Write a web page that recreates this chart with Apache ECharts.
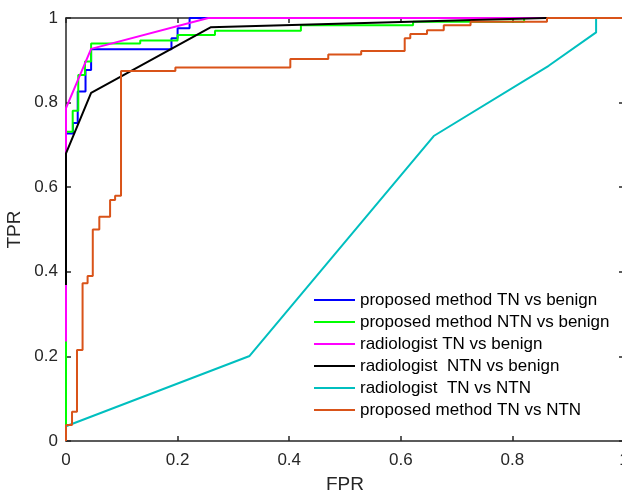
<!DOCTYPE html>
<html>
<head>
<meta charset="utf-8">
<script src="https://cdn.jsdelivr.net/npm/echarts@6/dist/echarts.min.js"></script>
<style>
html,body{margin:0;padding:0;background:#fff;overflow:hidden;}
#c{width:622px;height:493px;}
</style>
</head>
<body>
<div id="c"></div>
<script>
const seriesNames = [
  'proposed method TN vs benign',
  'proposed method NTN vs benign',
  'radiologist TN vs benign',
  'radiologist  NTN vs benign',
  'radiologist  TN vs NTN',
  'proposed method TN vs NTN'
];
const seriesColors = ['#0000FF','#00FF00','#FF00FF','#000000','#00BFBF','#D95319'];
const xTicks = [0, 0.2, 0.4, 0.6, 0.8, 1];
const yTicks = [0, 0.2, 0.4, 0.6, 0.8, 1];

const propTNvsBenign = [[0,0],[0,0.727],[0.0125,0.727],[0.0125,0.752],[0.021,0.752],[0.021,0.826],[0.035,0.826],[0.035,0.877],[0.045,0.877],[0.045,0.926],[0.189,0.926],[0.189,0.952],[0.2,0.952],[0.2,0.976],[0.2215,0.976],[0.2215,1],[1,1]];
const propNTNvsBenign = [[0,0],[0,0.731],[0.012,0.731],[0.012,0.781],[0.022,0.781],[0.022,0.865],[0.034,0.865],[0.034,0.897],[0.045,0.897],[0.045,0.94],[0.133,0.94],[0.133,0.947],[0.2,0.947],[0.2,0.96],[0.267,0.96],[0.267,0.97],[0.421,0.97],[0.421,0.983],[0.622,0.983],[0.622,0.991],[0.821,0.991],[0.821,1],[1,1]];
const radTNvsBenign = [[0,0.235],[0,0.787],[0.045,0.927],[0.255,1],[1,1]];
const radNTNvsBenign = [[0,0.369],[0,0.68],[0.045,0.823],[0.259,0.978],[0.86,1],[1,1]];
const radTNvsNTN = [[0,0.035],[0.329,0.201],[0.659,0.721],[0.865,0.887],[0.95,0.966],[0.95,1],[1,1]];
const propTNvsNTN = [[0,0],[0,0.038],[0.0108,0.038],[0.0108,0.069],[0.0197,0.069],[0.0197,0.215],[0.0297,0.215],[0.0297,0.373],[0.0387,0.373],[0.0387,0.39],[0.048,0.39],[0.048,0.5],[0.0597,0.5],[0.0597,0.53],[0.079,0.53],[0.079,0.57],[0.088,0.57],[0.088,0.58],[0.0986,0.58],[0.0986,0.875],[0.196,0.875],[0.196,0.883],[0.402,0.883],[0.402,0.903],[0.47,0.903],[0.47,0.914],[0.529,0.914],[0.529,0.922],[0.607,0.922],[0.607,0.952],[0.617,0.952],[0.617,0.962],[0.647,0.962],[0.647,0.971],[0.677,0.971],[0.677,0.983],[0.725,0.983],[0.725,0.991],[0.862,0.991],[0.862,1],[1,1]];

const allData = [propTNvsBenign, propNTNvsBenign, radTNvsBenign, radNTNvsBenign, radTNvsNTN, propTNvsNTN];

const axisColor = '#262626';
const font = 'Liberation Sans, Arial, sans-serif';

function baseAxis(extra){
  return Object.assign({
    type:'value', min:0, max:1, interval:0.2,
    splitLine:{show:false},
    axisLine:{show:true, onZero:false, lineStyle:{color:axisColor, width:1.5}},
    axisTick:{show:true, inside:true, length:5, lineStyle:{color:axisColor, width:1.5}},
  }, extra);
}

const chart = echarts.init(document.getElementById('c'), null, {renderer:'canvas'});
chart.setOption({
  animation:false,
  backgroundColor:'#fff',
  grid:{left:66, top:18, width:558, height:423, containLabel:false, outerBoundsMode:'none'},
  legend:{
    orient:'vertical', left:314, top:290, padding:0, itemWidth:41, itemHeight:2, itemGap:2,
    icon:'rect',
    data:seriesNames,
    textStyle:{fontFamily:font, fontSize:17, color:'#000', lineHeight:20}
  },
  xAxis:[
    baseAxis({position:'bottom', name:'FPR', nameLocation:'middle', nameGap:34, nameMoveOverlap:false,
      nameTextStyle:{fontFamily:font, fontSize:19, color:axisColor},
      axisLabel:{margin:11, fontFamily:font, fontSize:17, color:axisColor,
        formatter:function(v){ return xTicks.indexOf(v)>=0 ? String(v) : ''; }}}),
    baseAxis({position:'top', axisLabel:{show:false}})
  ],
  yAxis:[
    baseAxis({position:'left', name:'TPR', nameLocation:'middle', nameGap:42, nameMoveOverlap:false,
      nameTextStyle:{fontFamily:font, fontSize:19, color:axisColor},
      axisLabel:{margin:8, fontFamily:font, fontSize:17, color:axisColor,
        formatter:function(v){ return yTicks.indexOf(v)>=0 ? String(v) : ''; }}}),
    baseAxis({position:'right', axisLabel:{show:false}})
  ],
  series: seriesNames.map(function(n,i){
    return {
      name:n, type:'line', xAxisIndex:0, yAxisIndex:0,
      data:allData[i], showSymbol:false, symbol:'none', clip:false,
      color:seriesColors[i],
      lineStyle:{color:seriesColors[i], width:2}
    };
  })
});
</script>
</body>
</html>
